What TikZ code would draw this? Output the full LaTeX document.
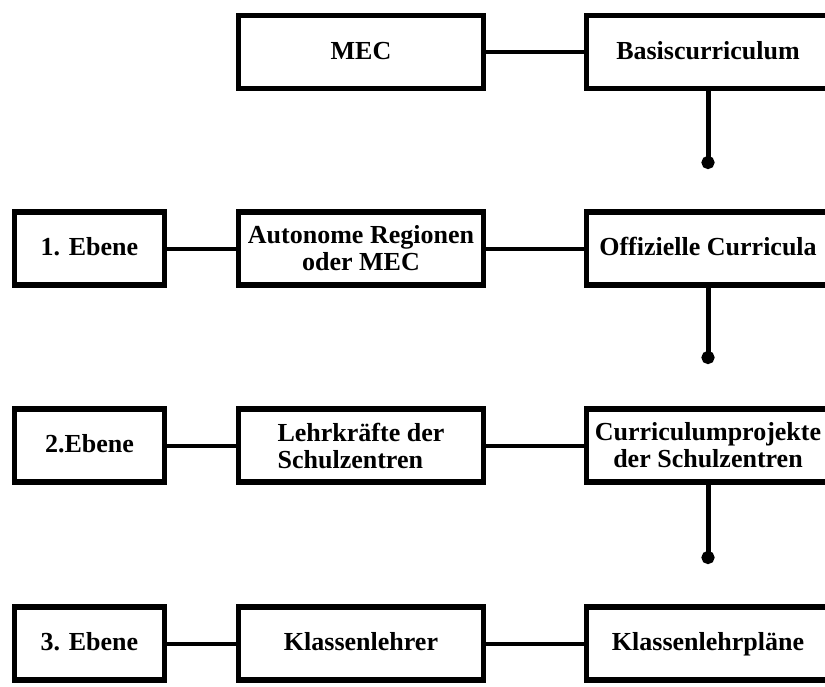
\documentclass[tikz,border=0pt]{standalone}
\usepackage{fontspec}
\setmainfont{Liberation Serif}
\usetikzlibrary{arrows.meta}
\begin{document}
\begin{tikzpicture}[x=1pt,y=-1pt,
  box/.style={draw=black, line width=5.5pt, fill=white, minimum height=73pt,
    inner sep=0pt, font=\bfseries\fontsize{26}{27}\selectfont, align=center},
  oneline/.style={text height=19pt, text depth=5pt},
  lbox/.style={box, oneline, minimum width=150pt},
  mbox/.style={box, minimum width=245pt},
  rbox/.style={box, minimum width=243pt},
  link/.style={line width=4pt},
  flow/.style={line width=5pt, -{Circle[length=13pt,width=13pt]}}]
\useasboundingbox (0,0) rectangle (825,686);
\clip (0,0) rectangle (825,686);

% top row
\node[mbox, oneline] (mec)   at (361,52) {MEC};
\node[rbox, oneline] (basis) at (708,52) {Basiscurriculum};

% level 1
\node[lbox] (e1)   at (89.5,248.5) {1. Ebene};
\node[mbox] (auto) at (361,248.5) {Autonome Regionen\\oder MEC};
\node[rbox, oneline] (off)  at (708,248.5) {Offizielle Curricula};

% level 2
\node[lbox] (e2)   at (89.5,445.5) {2.Ebene};
\node[mbox, align=left] (lehr) at (361,445.5) {Lehrkr\"afte der\\Schulzentren};
\node[rbox] (proj) at (708,445.5) {Curriculumprojekte\\der Schulzentren};

% level 3
\node[lbox] (e3)    at (89.5,643.5) {3. Ebene};
\node[mbox, oneline] (klehr) at (361,643.5) {Klassenlehrer};
\node[rbox, oneline] (kplan) at (708,643.5) {Klassenlehrpl\"ane};

% horizontal links
\draw[link] (mec) -- (basis);
\draw[link] (e1) -- (auto);
\draw[link] (auto) -- (off);
\draw[link] (e2) -- (lehr);
\draw[link] (lehr) -- (proj);
\draw[link] (e3) -- (klehr);
\draw[link] (klehr) -- (kplan);

% downward flow with round ends
\coordinate (d0) at (708,169);
\coordinate (d1) at (708,364);
\coordinate (d2) at (708,564);
\draw[flow] (basis.south) -- (d0);
\draw[flow] (off.south) -- (d1);
\draw[flow] (proj.south) -- (d2);
\end{tikzpicture}
\end{document}
